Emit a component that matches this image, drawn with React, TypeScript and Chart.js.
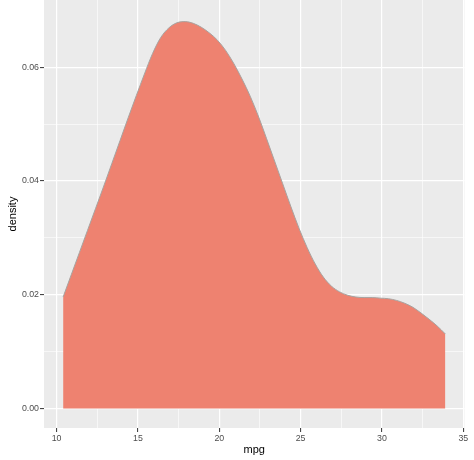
import React, { useEffect, useRef } from "react";
import { Chart, registerables } from "chart.js";

Chart.register(...registerables);

const mpg = [10.4, 10.9, 11.4, 11.9, 12.4, 12.9, 13.4, 13.9, 14.4, 14.9, 15.4, 15.9, 16.4, 16.9, 17.4, 17.9, 18.4, 18.9, 19.4, 19.9, 20.4, 20.9, 21.4, 21.9, 22.4, 22.9, 23.4, 23.9, 24.4, 24.9, 25.4, 25.9, 26.4, 26.9, 27.4, 27.9, 28.4, 28.9, 29.4, 29.9, 30.4, 30.9, 31.4, 31.9, 32.4, 32.9, 33.4, 33.9];
const density = [0.0196, 0.0235, 0.0274, 0.0313, 0.0352, 0.0391, 0.0431, 0.0471, 0.0511, 0.0550, 0.0588, 0.0624, 0.0652, 0.0669, 0.0678, 0.0680, 0.0677, 0.0670, 0.0660, 0.0647, 0.0629, 0.0606, 0.0579, 0.0549, 0.0514, 0.0475, 0.0435, 0.0395, 0.0355, 0.0317, 0.0283, 0.0254, 0.0231, 0.0215, 0.0205, 0.0199, 0.0196, 0.0195, 0.0195, 0.0194, 0.0193, 0.0190, 0.0185, 0.0178, 0.0168, 0.0157, 0.0145, 0.0131];
const xTicks = [10, 15, 20, 25, 30, 35];
const xMinor = [12.5, 17.5, 22.5, 27.5, 32.5];
const yTicks = [0, 0.02, 0.04, 0.06];
const yMinor = [0.01, 0.03, 0.05];

const bgPlugin = {
  id: "panelBg",
  beforeDraw(chart: any) {
    const { ctx, chartArea } = chart;
    ctx.save();
    ctx.fillStyle = "#EBEBEB";
    ctx.fillRect(chartArea.left, chartArea.top, chartArea.right - chartArea.left, chartArea.bottom - chartArea.top);
    ctx.restore();
  },
};

export default function App() {
  const ref = useRef<HTMLCanvasElement>(null);
  useEffect(() => {
    if (!ref.current) return;
    const isMajorX = (v: number) => xTicks.includes(v);
    const isMajorY = (v: number) => yTicks.some((t) => Math.abs(t - v) < 1e-9);
    const chart = new Chart(ref.current, {
      type: "line",
      data: {
        datasets: [
          {
            data: mpg.map((x, i) => ({ x, y: density[i] })),
            fill: "origin",
            backgroundColor: "#EE8270",
            borderColor: "#A8A3A0",
            borderWidth: 1,
            pointRadius: 0,
            cubicInterpolationMode: "monotone",
          },
        ],
      },
      options: {
        animation: false,
        responsive: false,
        plugins: { legend: { display: false }, tooltip: { enabled: false } },
        layout: { padding: { left: 0, right: 9.5, top: 0, bottom: 0 } },
        scales: {
          x: {
            type: "linear",
            min: 9.225,
            max: 35.075,
            afterBuildTicks: (s: any) => {
              s.ticks = [...xTicks, ...xMinor].sort((a, b) => a - b).map((v) => ({ value: v }));
            },
            afterFit: (s: any) => {
              s.height = 32;
              s.paddingLeft = 0;
              s.paddingRight = 0;
            },
            ticks: {
              autoSkip: false,
              maxRotation: 0,
              padding: 1,
              color: "#4D4D4D",
              font: { family: "Liberation Sans, Arial, sans-serif", size: 8.8 },
              callback: (v: any) => (isMajorX(Number(v)) ? String(v) : ""),
            },
            grid: {
              color: "#FFFFFF",
              lineWidth: (c: any) => (isMajorX(c.tick.value) ? 1.2 : 0.6),
              tickLength: 4,
              tickColor: (c: any) => (isMajorX(c.tick.value) ? "#333333" : "rgba(0,0,0,0)"),
              tickWidth: 1,
            },
            border: { display: false },
            title: {
              display: true,
              text: "mpg",
              color: "#000000",
              font: { family: "Liberation Sans, Arial, sans-serif", size: 11 },
              padding: { top: 0, bottom: 3.4 },
            },
          },
          y: {
            type: "linear",
            min: -0.00342,
            max: 0.0718,
            afterBuildTicks: (s: any) => {
              s.ticks = [...yTicks, ...yMinor].sort((a, b) => a - b).map((v) => ({ value: v }));
            },
            afterFit: (s: any) => {
              s.width = 44;
              s.paddingTop = 0;
              s.paddingBottom = 0;
            },
            ticks: {
              autoSkip: false,
              padding: 1,
              color: "#4D4D4D",
              font: { family: "Liberation Sans, Arial, sans-serif", size: 8.8 },
              callback: (v: any) => (isMajorY(Number(v)) ? Number(v).toFixed(2) : ""),
            },
            grid: {
              color: "#FFFFFF",
              lineWidth: (c: any) => (isMajorY(c.tick.value) ? 1.2 : 0.6),
              tickLength: 4,
              tickColor: (c: any) => (isMajorY(c.tick.value) ? "#333333" : "rgba(0,0,0,0)"),
              tickWidth: 1,
            },
            border: { display: false },
            title: {
              display: true,
              text: "density",
              color: "#000000",
              font: { family: "Liberation Sans, Arial, sans-serif", size: 11 },
              padding: { top: 6.4, bottom: 0 },
            },
          },
        },
      },
      plugins: [bgPlugin],
    } as any);
    return () => chart.destroy();
  }, []);
  return (
    <div style={{ position: "absolute", left: 0, top: 0, width: 474, height: 460, background: "#FFFFFF" }}>
      <canvas ref={ref} width={474} height={460} style={{ display: "block" }} />
    </div>
  );
}
